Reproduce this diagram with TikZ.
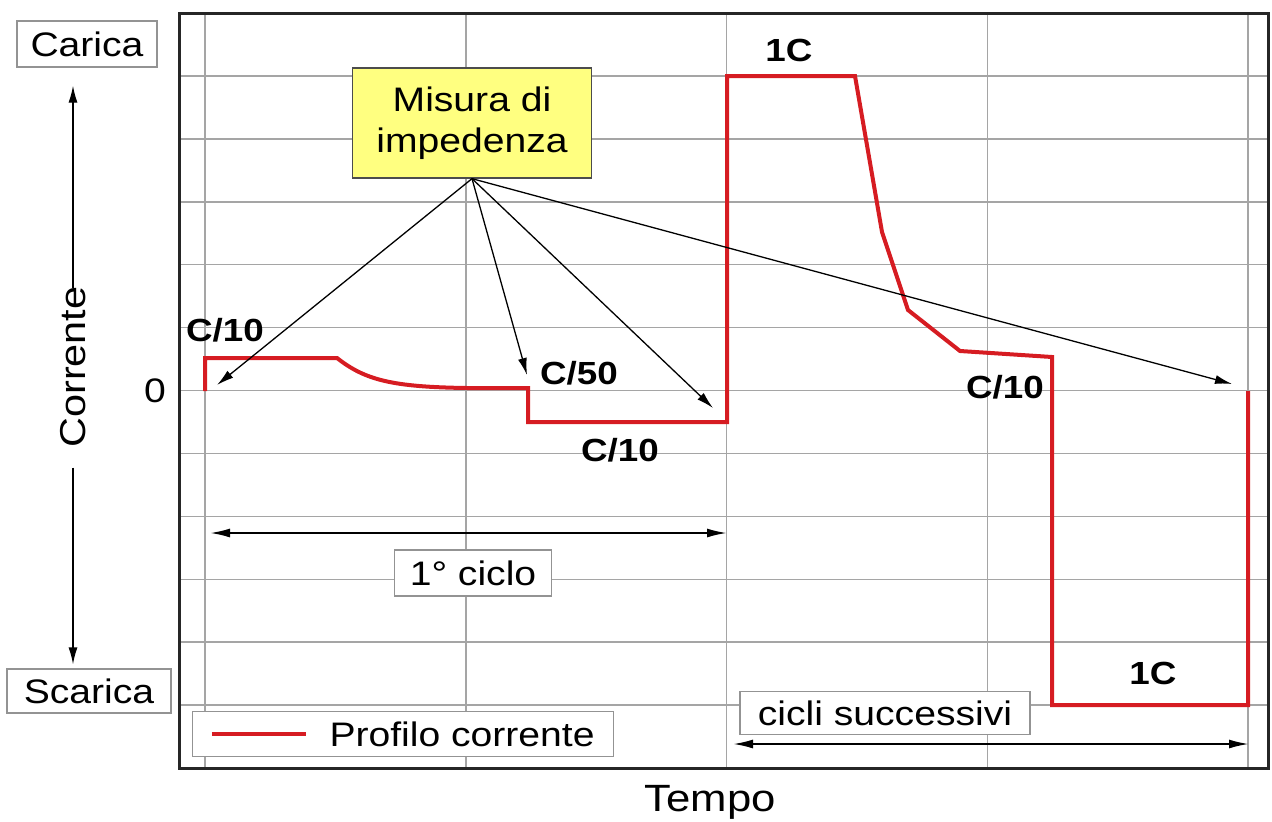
\documentclass[tikz,border=0pt]{standalone}
\usepackage{fontspec}
\setmainfont{Liberation Sans}[FakeStretch=1.15]
\usepackage{tikz}
\usetikzlibrary{arrows.meta}
\definecolor{rosso}{RGB}{214,28,34}
\definecolor{giallo}{RGB}{255,255,128}
\definecolor{griglia}{RGB}{165,165,165}
\tikzstyle{etichetta}=[rectangle,
draw=gray!85,
line width=1.3pt,
fill=white,
inner sep=0pt,
font=\fontsize{34}{40}\selectfont]
\tikzstyle{misura}=[rectangle,
draw=gray!60!black,
line width=1.3pt,
fill=giallo,
inner sep=0pt,
align=center,
font=\fontsize{34}{41}\selectfont]
\tikzstyle{valore}=[inner sep=0pt,
font=\bfseries\fontsize{32}{36}\selectfont]
\tikzstyle{asse}=[inner sep=0pt,
font=\fontsize{36}{40}\selectfont]
\tikzstyle{profilo}=[draw=rosso,
line width=4pt,
line join=miter]
\tikzstyle{freccia}=[draw=black,
line width=1.3pt]
\tikzstyle{durata}=[draw=black,
line width=2pt]

\begin{document}
\begin{tikzpicture}[x=1pt,y=-1pt,>={Latex[length=17pt,width=9pt]}]
	\useasboundingbox (0,0) rectangle (1272,822);
	
	% Grid of the chart, drawn first
	\foreach \gy in {1,...,11}
	\draw[griglia, line width=1.5pt] (179,{13+62.92*\gy}) -- (1268,{13+62.92*\gy});
	\foreach \gx in {205,465.75,726.5,987.25,1248}
	\draw[griglia, line width=1.5pt] (\gx,13) -- (\gx,768);
	\draw[line width=3pt, gray!30!black] (179,13) rectangle (1268,768);
	
	% Current profile
	\draw[profilo] (205,391) -- (205,358) -- (337,358)
	.. controls (365,380) and (392,387) .. (467,388)
	-- (528,388) -- (528,422) -- (727,422) -- (727,76) -- (855,76)
	-- (882,232) -- (908,310) -- (960,351) -- (1052,357)
	-- (1052,705) -- (1248,705) -- (1248,391);
	
	% Axis labels
	\node (carica)  [etichetta, minimum width=140pt, minimum height=46pt] at (87,44)  {Carica};
	\node (scarica) [etichetta, minimum width=164pt, minimum height=44pt] at (89,691) {Scarica};
	\node (corrente) [asse, rotate=90] at (73,367) {Corrente};
	\node (tempo)    [asse, font=\fontsize{38}{42}\selectfont] at (710,802) {Tempo};
	\node (zero)     [asse, font=\fontsize{34}{40}\selectfont] at (155,391) {0};
	
	% Current values
	\node (c10a) [valore] at (225,330)  {C/10};
	\node (c50)  [valore] at (579,373)  {C/50};
	\node (c10b) [valore] at (620,450)  {C/10};
	\node (uno)  [valore] at (789,50)   {1C};
	\node (c10c) [valore] at (1005,387) {C/10};
	\node (unob) [valore] at (1153,673) {1C};
	
	% Impedance measurement and its targets
	\node (misura) [misura, minimum width=239pt, minimum height=110pt] at (472,123)
	{Misura di\\impedenza};
	\coordinate (m1) at (217,385);
	\coordinate (m2) at (527,375);
	\coordinate (m3) at (713,408);
	\coordinate (m4) at (1232,384);
	
	% Cycles
	\coordinate (ciclo-a) at (210,533);
	\coordinate (ciclo-b) at (727,533);
	\node (ciclo) [etichetta, minimum width=157pt, minimum height=46pt] at (473,573) {1° ciclo};
	\coordinate (cicli-a) at (733,744);
	\coordinate (cicli-b) at (1249,744);
	\node (cicli) [etichetta, minimum width=290pt, minimum height=43pt] at (885,713) {cicli successivi};
	
	% Legend
	\node (legenda) [etichetta, minimum width=421pt, minimum height=45pt] at (403,734) {};
	\coordinate (leg-a) at ([xshift=20pt]legenda.west);
	\coordinate (leg-b) at ([xshift=114pt]legenda.west);
	\node (profilo-testo) [etichetta, draw=none, fill=none, anchor=west] at ([xshift=137pt]legenda.west) {Profilo corrente};
	\draw[profilo] (leg-a) -- (leg-b);
	
	% Arrows
	\path[->]
	(corrente.east) edge[freccia, shorten <=-2pt, shorten >=18pt] (corrente.east |- carica.south)
	(corrente.west) edge[freccia, shorten <=20pt, shorten >=4pt] (corrente.west |- scarica.north)
	
	(misura.south) edge[freccia] (m1)
	(misura.south) edge[freccia] (m2)
	(misura.south) edge[freccia] (m3)
	(misura.south) edge[freccia] (m4)
	;
	\path[{Latex[length=20pt,width=9pt]}-{Latex[length=20pt,width=9pt]}]
	(ciclo-a) edge[durata] (ciclo-b)
	(cicli-a) edge[durata] (cicli-b)
	;
\end{tikzpicture}
\end{document}
